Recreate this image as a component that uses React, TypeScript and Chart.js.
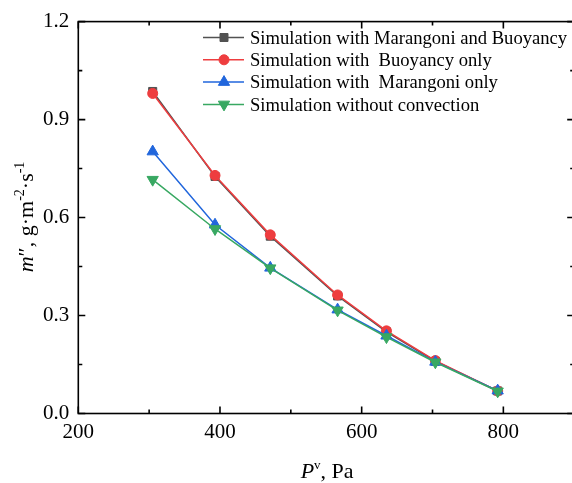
import React, { useEffect, useRef } from 'react';
import { Chart, registerables } from 'chart.js';

Chart.register(...registerables);

// ---- Data ----
const pressures = [305, 393, 471, 566, 635, 704, 792];
const marangoniBuoyancy = [0.986, 0.726, 0.543, 0.360, 0.250, 0.160, 0.069];
const buoyancyOnly = [0.980, 0.729, 0.547, 0.363, 0.253, 0.162, 0.069];
const marangoniOnly = [0.802, 0.578, 0.446, 0.318, 0.238, 0.158, 0.070];
const noConvection = [0.716, 0.565, 0.445, 0.316, 0.234, 0.157, 0.068];

const seriesLabels = [
  'Simulation with Marangoni and Buoyancy',
  'Simulation with  Buoyancy only',
  'Simulation with  Marangoni only',
  'Simulation without convection',
];
const seriesColors = ['#525252', '#ee3d3f', '#2166dc', '#38a862'];
const seriesMarkers = ['square', 'circle', 'triangle', 'triangleDown'];

const xMin = 200;
const xMax = 900;
const xStep = 100;
const yMin = 0;
const yMax = 1.2;
const yStep = 0.15;

const SERIF = '"Liberation Serif", "Times New Roman", serif';

type Piece = { t: string; f: string; dy?: number };

function drawPieces(ctx: CanvasRenderingContext2D, pieces: Piece[], cx: number, baseY: number) {
  let total = 0;
  for (const p of pieces) {
    ctx.font = p.f;
    total += ctx.measureText(p.t).width;
  }
  let x = cx - total / 2;
  ctx.textAlign = 'left';
  ctx.textBaseline = 'alphabetic';
  for (const p of pieces) {
    ctx.font = p.f;
    ctx.fillText(p.t, x, baseY + (p.dy || 0));
    x += ctx.measureText(p.t).width;
  }
}

function drawMarker(ctx: CanvasRenderingContext2D, kind: string, x: number, y: number, color: string) {
  ctx.save();
  ctx.fillStyle = color;
  ctx.strokeStyle = color;
  ctx.lineWidth = 1;
  ctx.beginPath();
  if (kind === 'square') {
    ctx.rect(x - 4, y - 4, 8, 8);
  } else if (kind === 'circle') {
    ctx.arc(x, y, 5, 0, Math.PI * 2);
  } else if (kind === 'triangle') {
    const r = 6.5;
    ctx.moveTo(x, y - r);
    ctx.lineTo(x + r * 0.866, y + r / 2);
    ctx.lineTo(x - r * 0.866, y + r / 2);
    ctx.closePath();
  } else {
    const r = 6.5;
    ctx.moveTo(x, y + r);
    ctx.lineTo(x + r * 0.866, y - r / 2);
    ctx.lineTo(x - r * 0.866, y - r / 2);
    ctx.closePath();
  }
  ctx.fill();
  ctx.stroke();
  ctx.restore();
}

const framePlugin = {
  id: 'frameAndTicks',
  afterDraw(chart: any) {
    const { ctx, chartArea } = chart;
    const { left, right, top, bottom } = chartArea;
    const xs = chart.scales.x;
    const ys = chart.scales.y;
    ctx.save();
    ctx.strokeStyle = '#000';
    ctx.lineWidth = 1.6;
    ctx.strokeRect(left, top, right - left, bottom - top);
    ctx.beginPath();
    for (const t of xs.ticks) {
      const v = t.value;
      const px = xs.getPixelForValue(v);
      const major = Math.round(v) % 200 === 0;
      const len = major ? 7 : 4;
      ctx.moveTo(px, bottom);
      ctx.lineTo(px, bottom - len);
      ctx.moveTo(px, top);
      ctx.lineTo(px, top + len);
    }
    for (const t of ys.ticks) {
      const v = t.value;
      const py = ys.getPixelForValue(v);
      const major = Math.round(v / yStep) % 2 === 0;
      const len = major ? 7 : 4;
      ctx.moveTo(left, py);
      ctx.lineTo(left + len, py);
      ctx.moveTo(right, py);
      ctx.lineTo(right - len, py);
    }
    ctx.stroke();

    // axis titles
    ctx.fillStyle = '#000';
    drawPieces(
      ctx,
      [
        { t: 'P', f: `italic 22px ${SERIF}` },
        { t: 'v', f: `13px ${SERIF}`, dy: -9 },
        { t: ', Pa', f: `22px ${SERIF}` },
      ],
      (left + 572) / 2 + 2,
      478
    );
    ctx.save();
    ctx.translate(33, 217);
    ctx.rotate(-Math.PI / 2);
    drawPieces(
      ctx,
      [
        { t: 'm', f: `italic 22px ${SERIF}` },
        { t: '\u2033', f: `22px ${SERIF}` },
        { t: ', g\u00b7m', f: `22px ${SERIF}` },
        { t: '-2', f: `14px ${SERIF}`, dy: -9 },
        { t: '\u00b7s', f: `22px ${SERIF}` },
        { t: '-1', f: `14px ${SERIF}`, dy: -9 },
      ],
      0,
      0
    );
    ctx.restore();

    // legend
    for (let i = 0; i < seriesLabels.length; i++) {
      const rowY = 37.5 + i * 22.3;
      ctx.strokeStyle = seriesColors[i];
      ctx.lineWidth = 1.5;
      ctx.beginPath();
      ctx.moveTo(203, rowY);
      ctx.lineTo(244, rowY);
      ctx.stroke();
      drawMarker(ctx, seriesMarkers[i], 224, rowY, seriesColors[i]);
      ctx.fillStyle = '#000';
      ctx.font = `18.6px ${SERIF}`;
      ctx.textAlign = 'left';
      ctx.textBaseline = 'alphabetic';
      ctx.fillText(seriesLabels[i], 250, rowY + 6.3);
    }
    ctx.restore();
  },
};

export default function App() {
  const canvasRef = useRef<HTMLCanvasElement | null>(null);

  useEffect(() => {
    if (!canvasRef.current) return;
    const allSeries = [marangoniBuoyancy, buoyancyOnly, marangoniOnly, noConvection];
    const pointStyles = ['rect', 'circle', 'triangle', 'triangle'];
    const radii = [5.7, 5, 6.5, 6.5];
    const rotations = [0, 0, 0, 180];
    const orders = [4, 3, 2, 1];
    const datasets = allSeries.map((vals, i) => ({
      label: seriesLabels[i],
      data: pressures.map((p, j) => ({ x: p, y: vals[j] })),
      borderColor: seriesColors[i],
      backgroundColor: seriesColors[i],
      borderWidth: 1.5,
      pointStyle: pointStyles[i] as any,
      pointRadius: radii[i],
      pointRotation: rotations[i],
      pointBorderWidth: 1,
      pointBorderColor: seriesColors[i],
      pointBackgroundColor: seriesColors[i],
      tension: 0,
      order: orders[i],
    }));

    const chart = new Chart(canvasRef.current, {
      type: 'line',
      data: { datasets },
      options: {
        animation: false,
        responsive: false,
        devicePixelRatio: 1,
        layout: { padding: { top: 16.7, right: 11.8, left: 0, bottom: 0 } },
        plugins: { legend: { display: false }, tooltip: { enabled: false } },
        scales: {
          x: {
            type: 'linear',
            min: xMin,
            max: xMax,
            grid: { display: false, drawTicks: false },
            border: { display: false },
            ticks: {
              stepSize: xStep,
              autoSkip: false,
              maxRotation: 0,
              padding: 6,
              color: '#000',
              font: { family: SERIF, size: 21 },
              callback: (v: any) => (Math.round(v) % 200 === 0 ? String(v) : ''),
            },
            afterFit: (s: any) => {
              s.height = 69.5;
            },
          },
          y: {
            type: 'linear',
            min: yMin,
            max: yMax,
            grid: { display: false, drawTicks: false },
            border: { display: false },
            ticks: {
              stepSize: yStep,
              autoSkip: false,
              padding: 9,
              color: '#000',
              font: { family: SERIF, size: 21 },
              callback: (v: any) => (Math.round(v / yStep) % 2 === 0 ? Number(v).toFixed(1) : ''),
            },
            afterFit: (s: any) => {
              s.width = 78.3;
            },
          },
        },
      },
      plugins: [framePlugin],
    });
    return () => chart.destroy();
  }, []);

  return (
    <div
      style={{
        position: 'fixed',
        left: 0,
        top: 0,
        width: 572,
        height: 483,
        overflow: 'hidden',
        background: '#fff',
      }}
    >
      <canvas ref={canvasRef} width={586} height={483} style={{ display: 'block', width: 586, height: 483 }} />
    </div>
  );
}
